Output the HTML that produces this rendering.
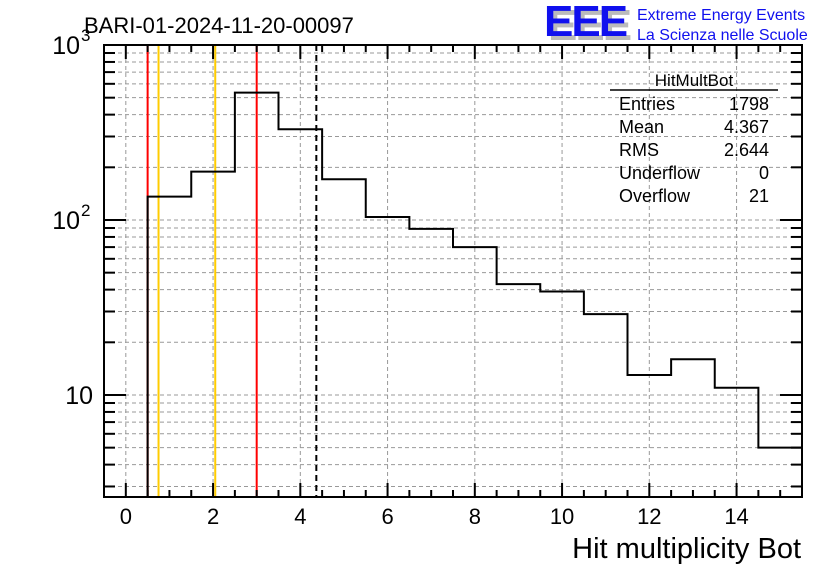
<!DOCTYPE html>
<html><head><meta charset="utf-8"><style>
body{margin:0;background:#fff}
svg{display:block;font-family:"Liberation Sans",sans-serif}
</style></head><body>
<svg id="c" width="836" height="572" xmlns="http://www.w3.org/2000/svg">
<rect width="836" height="572" fill="#fff"/>
<g id="grid"></g>
<g id="vlines"></g>
<path id="hist" fill="none" stroke="#000" stroke-width="2"/>
<g id="axes"></g>
<text x="84" y="33" font-size="22">BARI-01-2024-11-20-00097</text>
<g>
<text x="548" y="40" font-size="44" font-weight="bold" fill="#bbb" letter-spacing="-2">EEE</text>
<text x="544" y="36" font-size="44" font-weight="bold" fill="#1010ee" letter-spacing="-2">EEE</text>
<text x="637" y="20" font-size="16" fill="#1010ee">Extreme Energy Events</text>
<text x="637" y="40" font-size="16" fill="#1010ee">La Scienza nelle Scuole</text>
</g>
<g font-size="18">
<text x="694" y="86" text-anchor="middle" font-size="17">HitMultBot</text>
<line x1="610" y1="90" x2="778" y2="90" stroke="#000" stroke-width="1.5"/>
<text x="619" y="110">Entries</text><text x="769" y="110" text-anchor="end">1798</text>
<text x="619" y="133">Mean</text><text x="769" y="133" text-anchor="end">4.367</text>
<text x="619" y="156">RMS</text><text x="769" y="156" text-anchor="end">2.644</text>
<text x="619" y="179">Underflow</text><text x="769" y="179" text-anchor="end">0</text>
<text x="619" y="202">Overflow</text><text x="769" y="202" text-anchor="end">21</text>
</g>
<text x="801" y="558" font-size="29" text-anchor="end">Hit multiplicity Bot</text>
</svg>
<script>
const binEdgesLow = [0.5,1.5,2.5,3.5,4.5,5.5,6.5,7.5,8.5,9.5,10.5,11.5,12.5,13.5,14.5];
const counts = [136,189,534,330,171,104,89,70,43,39,29,13,16,11,5];
const xTicks = [0,2,4,6,8,10,12,14];
const redLines = [0.5,3.0];
const yellowLines = [0.75,2.05];
const meanLine = [4.367];
const NS="http://www.w3.org/2000/svg";
const L=104,R=802,T=45,B=497, xmin=-0.5, xmax=15.5, lymin=0.417, lymax=3;
const X=v=>L+(v-xmin)/(xmax-xmin)*(R-L);
const Y=v=>B-(Math.log10(v)-lymin)/(lymax-lymin)*(B-T);
function mk(tag,at,parent){const e=document.createElementNS(NS,tag);for(const k in at)e.setAttribute(k,at[k]);document.getElementById(parent).appendChild(e);return e;}
xTicks.forEach(t=>{const e=mk('line',{x1:X(t),x2:X(t),y1:T,y2:B,stroke:'#999','stroke-dasharray':'4,3','stroke-width':1},'grid');

});
const yMinor=[];for(let d=0;d<3;d++)for(let m=1;m<10;m++){const v=m*Math.pow(10,d);if(v>Math.pow(10,lymin)&&v<=1000)yMinor.push(v);}
yMinor.forEach(v=>{const e=mk('line',{x1:L,x2:R,y1:Y(v),y2:Y(v),stroke:'#999','stroke-dasharray':'4,3','stroke-width':1},'grid');

});
redLines.forEach(v=>{const e=mk('line',{x1:X(v),x2:X(v),y1:T,y2:B,stroke:'#f00','stroke-width':2},'vlines');

});
yellowLines.forEach(v=>{const e=mk('line',{x1:X(v),x2:X(v),y1:T,y2:B,stroke:'#fc0','stroke-width':2},'vlines');

});
meanLine.forEach(v=>{const e=mk('line',{x1:X(v),x2:X(v),y1:T,y2:B,stroke:'#000','stroke-width':2,'stroke-dasharray':'6,4'},'vlines');

});
let d=`M${X(binEdgesLow[0])},${B}`;
counts.forEach((c,i)=>{const x0=X(binEdgesLow[i]),x1=Math.min(X(binEdgesLow[i]+1),R);d+=` L${x0},${Y(c)} L${x1},${Y(c)}`;});
document.getElementById('hist').setAttribute('d',d);
mk('rect',{x:L,y:T,width:R-L,height:B-T,fill:'none',stroke:'#000','stroke-width':2},'axes');
for(let v=-0.5;v<=15.5;v+=0.5){const maj=Math.abs(v%2)<1e-6;const len=maj?14:7;
mk('line',{x1:X(v),x2:X(v),y1:B,y2:B-len,stroke:'#000','stroke-width':2},'axes');
mk('line',{x1:X(v),x2:X(v),y1:T,y2:T+len,stroke:'#000','stroke-width':2},'axes');}
xTicks.forEach(t=>{const e=mk('text',{x:X(t),y:524,'font-size':22,'text-anchor':'middle'},'axes');e.textContent=t;

});
yMinor.forEach(v=>{const maj=[10,100,1000].includes(v);const len=maj?22:11;
mk('line',{x1:L,x2:L+len,y1:Y(v),y2:Y(v),stroke:'#000','stroke-width':2},'axes');
mk('line',{x1:R,x2:R-len,y1:Y(v),y2:Y(v),stroke:'#000','stroke-width':2},'axes');});
[[10,'10',''],[100,'10','2'],[1000,'10','3']].forEach(([v,b,s])=>{const e=mk('text',{x:s?80:93,y:Y(v)+9,'font-size':25,'text-anchor':'end'},'axes');e.textContent=b;


if(s){const t=mk('text',{x:81,y:Y(v)-4,'font-size':17},'axes');t.textContent=s;}});
</script>
</body></html>
